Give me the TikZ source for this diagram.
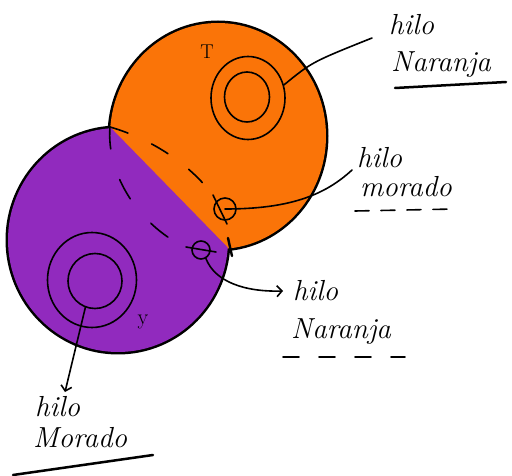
\documentclass[tikz,border=0pt]{standalone}
\usetikzlibrary{shapes.geometric,arrows.meta}
\definecolor{orng}{RGB}{250,116,8}
\definecolor{purp}{RGB}{145,42,190}
\begin{document}
\begin{tikzpicture}[x=1pt,y=-1pt,line cap=round,line join=round,
  outline/.style={line width=5pt,black},
  pen/.style={line width=1.6pt,black},
  ring/.style={draw,ellipse,line width=1.6pt,inner sep=0pt},
  lbl/.style={font=\fontsize{29}{29}\selectfont\itshape,inner sep=0pt,anchor=base west},
  tip/.style={-{Straight Barb[length=5pt,width=11pt,line width=1.6pt]}}]
\useasboundingbox (0,0) rectangle (512,476);
% outlines (half covered by fills)
\draw[outline] (218,136) ellipse [x radius=108pt,y radius=113pt];
\draw[outline] (118,240) ellipse [x radius=110pt,y radius=112pt];
% fills
\fill[orng] (218,136) ellipse [x radius=108pt,y radius=113pt];
\begin{scope}
  \clip (-130,-119) -- (440,465) -- (100,800) -- (-470,216) -- cycle;
  \fill[purp] (118,240) ellipse [x radius=110pt,y radius=112pt];
\end{scope}
\coordinate (T1) at (110,127);
\draw[line width=2.4pt] (228,238) -- (232,256);
% rings
\node[ring,minimum width=74pt,minimum height=83pt] (oring) at (248,98) {};
\node[ring,minimum width=45pt,minimum height=50pt] (oring2) at (247,97) {};
\node[ring,minimum width=89pt,minimum height=95pt] (pring) at (92,280) {};
\node[ring,minimum width=54pt,minimum height=55pt] (pring2) at (95,281) {};
\node[font=\fontsize{20}{20}\selectfont] (tl) at (207,52) {T};
\node[font=\fontsize{22}{22}\selectfont] (yl) at (143,322) {y};
% small marks
\node[draw,circle,pen,minimum size=22pt,inner sep=0pt] (om) at (225,209) {};
\node[draw,circle,pen,minimum size=18pt,inner sep=0pt] (pm) at (201,250) {};
\draw[pen] (213,195) -- (227,224);
\draw[pen] (186,247) -- (216,252);
% dashed seams
\draw[pen,dash pattern=on 19pt off 26pt] (T1) .. controls (155,140) and (195,168) .. (om.north west);
\draw[pen,dash pattern=on 22pt off 32pt] (T1) .. controls (106,175) and (140,228) .. (pm.west);
% labels
\node[lbl] (l1a) at (389,35) {hilo};
\node[lbl] (l1b) at (391,72) {Naranja};
\draw[line width=2.5pt] (395,88) -- (506,82);
\node[lbl] (l2a) at (357,168) {hilo};
\node[lbl] (l2b) at (360,197) {morado};
\draw[pen,dash pattern=on 14pt off 12pt] (355,211) -- (455,209);
\node[lbl] (l3a) at (293,300) {hilo};
\node[lbl] (l3b) at (291,338) {Naranja};
\draw[pen,dash pattern=on 16pt off 20pt] (283,357) -- (405,357);
\node[lbl] (l4a) at (35,416) {hilo};
\node[lbl] (l4b) at (33,447) {Morado};
\draw[line width=2.5pt] (13,475) -- (153,455);
% connectors
\coordinate (e1) at (372,38);
\coordinate (e2) at (352,170);
\coordinate (e3) at (283,291);
\coordinate (e4) at (65,392);
\draw[pen] (oring.20) .. controls (312,62) .. (e1);
\draw[pen] (om.center) .. controls (290,209) and (325,195) .. (e2);
\draw[pen,tip] (pm.-60) .. controls (215,282) and (245,292) .. (e3);
\draw[pen,tip] (pring2.250) -- (e4);
\end{tikzpicture}
\end{document}
